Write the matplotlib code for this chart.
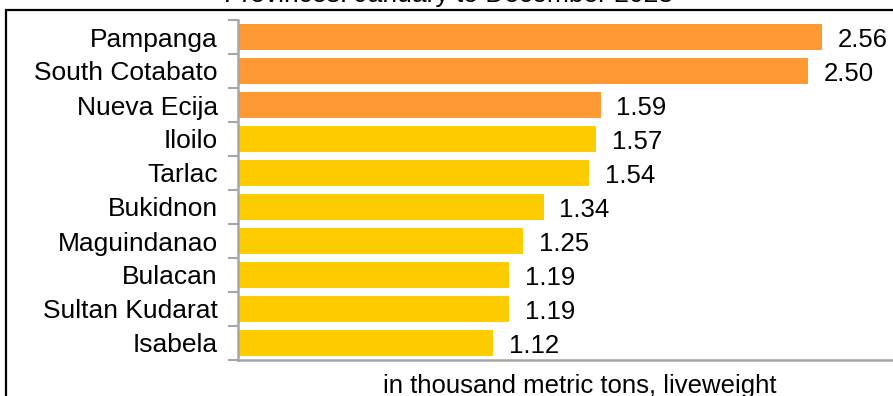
import matplotlib
matplotlib.use("Agg")
import matplotlib.pyplot as plt
from matplotlib.patches import Rectangle

provinces = ["Pampanga", "South Cotabato", "Nueva Ecija", "Iloilo", "Tarlac",
             "Bukidnon", "Maguindanao", "Bulacan", "Sultan Kudarat", "Isabela"]
values = [2.56, 2.50, 1.59, 1.57, 1.54, 1.34, 1.25, 1.19, 1.19, 1.12]
highlight = [True, True, True, False, False, False, False, False, False, False]
title_text = "Provinces: January to December 2023"
xlabel_text = "in thousand metric tons, liveweight"

ORANGE = "#FF9933"
YELLOW = "#FFCC00"
GRAY = "#A6A6A6"

plt.rcParams['font.family'] = ['Liberation Sans', 'DejaVu Sans']
W, H = 893, 396
fig = plt.figure(figsize=(W / 100, H / 100), dpi=100)

left_px, right_px, top_px, bottom_px = 238, 922, 20, 360
ax = fig.add_axes([left_px / W, 1 - bottom_px / H,
                   (right_px - left_px) / W, (bottom_px - top_px) / H])

n = len(provinces)
ypos = list(range(n))
colors = [ORANGE if h else YELLOW for h in highlight]
ax.barh(ypos, values, height=0.79, color=colors, edgecolor='none')
ax.set_ylim(n - 0.5, -0.5)
ax.set_xlim(0, 3.0)

for y, v in zip(ypos, values):
    ax.annotate(f"{v:.2f}", xy=(v, y), xytext=(11.5, -2.5), textcoords='offset points',
                ha='left', va='center', fontsize=18.5, color='black')

# Category labels
ax.set_yticks(ypos)
ax.set_yticklabels(provinces, fontsize=19)
ax.tick_params(axis='y', length=0, pad=14.5)
# Band-edge ticks
ax.set_yticks([i - 0.5 for i in range(n + 1)], minor=True)
ax.tick_params(axis='y', which='minor', length=7, width=1.5, color=GRAY, direction='out')

ax.set_xticks([])
for s in ['top', 'right']:
    ax.spines[s].set_visible(False)
for s in ['left', 'bottom']:
    ax.spines[s].set_color(GRAY)
    ax.spines[s].set_linewidth(1.8)

ax.set_xlabel(xlabel_text, fontsize=18.5, labelpad=10)

fig.text(448 / W, 1 - 2 / H, title_text, ha='center', va='baseline', fontsize=19)

rect = Rectangle((5.5 / W, -0.5), 2.0, 1 - 9.5 / H + 0.5, transform=fig.transFigure,
                 fill=False, edgecolor='black', linewidth=1.6, zorder=10)
fig.patches.append(rect)

fig.savefig("out.png", dpi=100)
